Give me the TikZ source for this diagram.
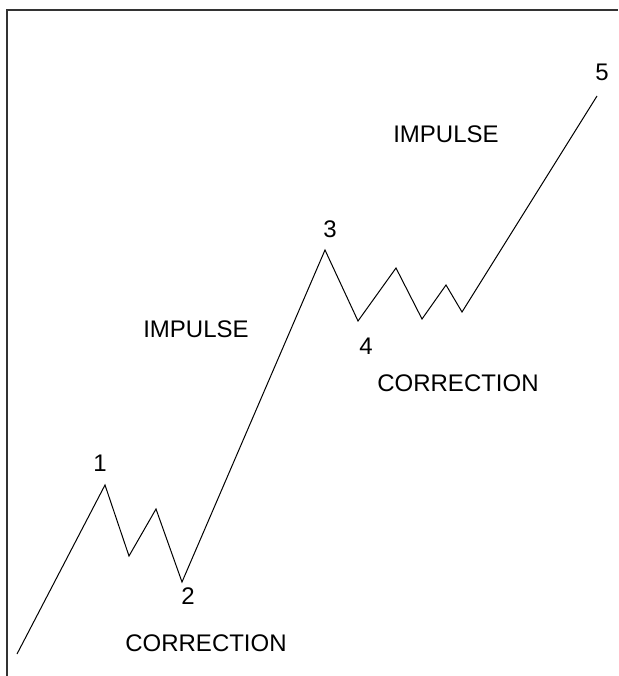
\documentclass[tikz,border=0pt]{standalone}
\usepackage{fontspec}
\setmainfont{Liberation Sans}
\usetikzlibrary{positioning}
\tikzset{wave label/.style={inner sep=0pt,font=\fontsize{24}{28}\selectfont}}
\tikzset{wave line/.style={line width=1pt,black,line join=miter}}
\tikzset{frame line/.style={line width=2.4pt,black!80}}

\begin{document}
\begin{tikzpicture}[x=1pt,y=-1pt]
\useasboundingbox (0,0) rectangle (618,676);

% open frame, left and top
\coordinate (fbot) at (7,676);
\coordinate (fcorner) at (7,10);
\coordinate (fright) at (618,10);
\draw[frame line] (fbot) -- (fcorner) -- (fright);

% turning points of the wave
\coordinate (w0) at (17,654);
\coordinate (w1) at (105,485);
\coordinate (wa) at (129,556);
\coordinate (wb) at (156,509);
\coordinate (w2) at (182,582);
\coordinate (w3) at (325,250);
\coordinate (w4) at (358,321);
\coordinate (wc) at (396,268);
\coordinate (wd) at (422,319);
\coordinate (we) at (446,285);
\coordinate (wf) at (462,312);
\coordinate (w5) at (597,96);

\draw[wave line] (w0) -- (w1) -- (wa) -- (wb) -- (w2) -- (w3)
  -- (w4) -- (wc) -- (wd) -- (we) -- (wf) -- (w5);

% wave numbers
\node[wave label] (n1) at (100,463) {1};
\node[wave label] (n2) at (188,596) {2};
\node[wave label] (n3) at (330,229) {3};
\node[wave label] (n4) at (366,346) {4};
\node[wave label] (n5) at (602,72) {5};

% phase names
\node[wave label] (imp1) at (196,329) {IMPULSE};
\node[wave label] (imp2) at (446,134) {IMPULSE};
\node[wave label] (cor1) at (206,643) {CORRECTION};
\node[wave label] (cor2) at (458,383) {CORRECTION};
\end{tikzpicture}
\end{document}
